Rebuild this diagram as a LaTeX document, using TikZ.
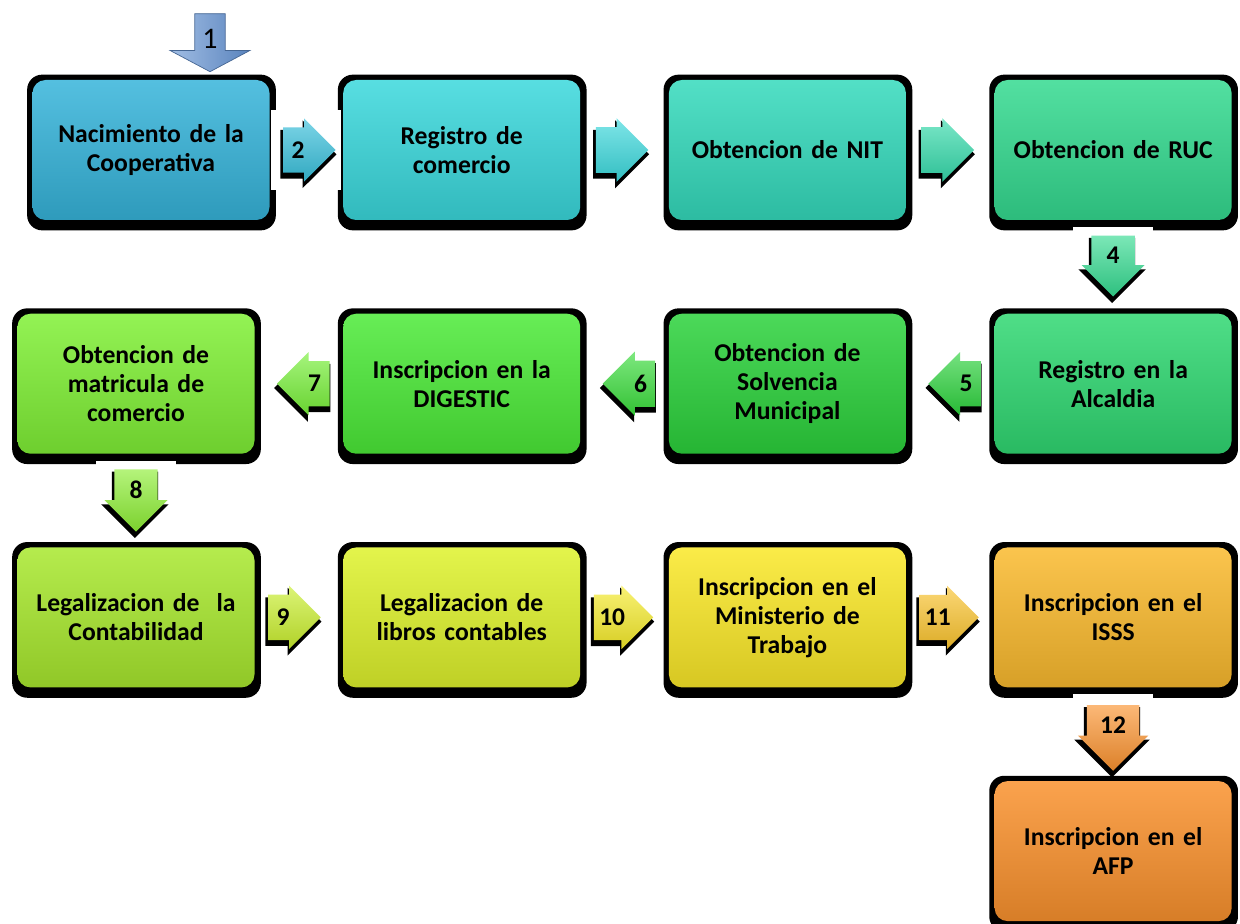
\documentclass[tikz,border=0pt]{standalone}
\usepackage{fontspec}
\setmainfont{Carlito}
\usetikzlibrary{positioning,calc,shapes.arrows,shadows}

\definecolor{cNac}{HTML}{36B4DA}
\definecolor{cReg}{HTML}{3AD8DC}
\definecolor{cNit}{HTML}{34DABC}
\definecolor{cRuc}{HTML}{34DA90}
\definecolor{cAlc}{HTML}{30D872}
\definecolor{cSol}{HTML}{2CD23C}
\definecolor{cDig}{HTML}{4CEA38}
\definecolor{cMat}{HTML}{80F036}
\definecolor{cCon}{HTML}{A8E82E}
\definecolor{cLib}{HTML}{DEF22C}
\definecolor{cMin}{HTML}{FAE828}
\definecolor{cIss}{HTML}{FABA2E}
\definecolor{cAfp}{HTML}{FA922E}
\definecolor{cArr}{HTML}{6392D2}

\pgfdeclarelayer{shade}
\pgfdeclarelayer{patch}
\pgfsetlayers{shade,patch,main}

\begin{document}
\begin{tikzpicture}[node distance=1.86cm and 1.76cm,
  stepbox/.style={rectangle, rounded corners=0.26cm, minimum width=4.74cm, minimum height=2.8cm,
    text width=4.5cm, align=center, font=\bfseries\fontsize{14.6}{16.5}\selectfont,
    top color=#1!85!white, middle color=#1, bottom color=#1!86!black},
  numarrow/.style={single arrow, anchor=tail, minimum height=1.05cm, minimum width=1.26cm,
    single arrow head extend=0.18cm, inner xsep=0.1cm, inner ysep=0.28cm,
    font=\bfseries\fontsize{14.5}{14.5}\selectfont,
    top color=#1!65!white, bottom color=#1!88!black,
    drop shadow={shadow xshift=-0.02cm, shadow yshift=-0.08cm, shadow scale=1.07, opacity=1, fill=black}},
  goright/.style={numarrow=#1},
  goleft/.style={numarrow=#1, shape border rotate=180},
  godown/.style={numarrow=#1, shape border rotate=270, minimum height=1.2cm, inner xsep=0.26cm, inner ysep=0.22cm},
  patchbox/.style={fill=white, minimum width=1.4cm, minimum height=1.6cm},
  patchbox down/.style={fill=white, minimum width=1.6cm, minimum height=1.6cm}]
\useasboundingbox (0,0) rectangle (24.8,-18.48);

% the steps, row by row
\node[stepbox=cNac] (nac) at (3.02,-3.0) {Nacimiento de la\\Cooperativa};
\node[stepbox=cReg] (reg) [right=1.46cm of nac] {Registro de\\comercio};
\node[stepbox=cNit] (nit) [right=of reg] {Obtencion de NIT};
\node[stepbox=cRuc] (ruc) [right=of nit] {Obtencion de RUC};
\node[stepbox=cAlc] (alc) [below=of ruc] {Registro en la\\Alcaldia};
\node[stepbox=cSol] (sol) [left=of alc] {Obtencion de\\Solvencia\\Municipal};
\node[stepbox=cDig] (dig) [left=of sol] {Inscripcion en la\\DIGESTIC};
\node[stepbox=cMat] (mat) [left=of dig] {Obtencion de\\matricula de\\comercio};
\node[stepbox=cCon] (con) [below=of mat] {Legalizacion de\ \ la\\Contabilidad};
\node[stepbox=cLib] (lib) [right=of con] {Legalizacion de\\libros contables};
\node[stepbox=cMin] (min) [right=of lib] {Inscripcion en el\\Ministerio de\\Trabajo};
\node[stepbox=cIss] (iss) [right=of min] {Inscripcion en el\\ISSS};
\node[stepbox=cAfp] (afp) [below=of iss] {Inscripcion en el\\AFP};

% dark frames behind the steps
\begin{pgfonlayer}{shade}
  \foreach \s in {nac,reg,nit,ruc,alc,sol,dig,mat,con,lib,min,iss,afp}
    \fill[black, rounded corners=0.3cm] ([xshift=-0.1cm,yshift=0.1cm]\s.north west)
      rectangle ([xshift=0.12cm,yshift=-0.2cm]\s.south east);
\end{pgfonlayer}

% arrows between the steps
\node[single arrow, shape border rotate=270, minimum height=1.16cm, minimum width=1.6cm,
  single arrow head extend=0.42cm, single arrow tip angle=124, inner sep=0.1cm,
  draw=cArr!70!black, left color=cArr!60!white, right color=cArr!90!black,
  font=\fontsize{17}{17}\selectfont] (a1) at ([xshift=1.18cm,yshift=0.82cm]nac.north) {1};
\node[goright=cNac!70!cReg] (a2) at ([xshift=0.26cm]nac.east) {2};
\node[goright=cReg] (a3) at ([xshift=0.3cm]reg.east) {\phantom{0}};
\node[goright=cNit!60!cRuc] (a3b) at ([xshift=0.3cm]nit.east) {\phantom{0}};
\node[godown=cRuc] (a4) at ([yshift=-0.3cm]ruc.south) {4};
\node[goleft=cSol] (a5) at ([xshift=-0.26cm]alc.west) {5};
\node[goleft=cSol!60!cDig] (a6) at ([xshift=-0.26cm]sol.west) {6};
\node[goleft=cMat!80!cDig] (a7) at ([xshift=-0.26cm]dig.west) {7};
\node[godown=cMat!70!cCon] (a8) at ([yshift=-0.3cm]mat.south) {8};
\node[goright=cLib!60!cCon] (a9) at ([xshift=0.26cm]con.east) {9};
\node[goright=cMin!80!cLib] (a10) at ([xshift=0.26cm]lib.east) {10};
\node[goright=cIss!80!cMin] (a11) at ([xshift=0.26cm]min.east) {11};
\node[godown=cAfp] (a12) at ([yshift=-0.34cm]iss.south) {12};

% white boxes under the numbered arrows
\begin{pgfonlayer}{patch}
  \foreach \p/\q in {nac.east/reg.west, con.east/lib.west, lib.east/min.west, min.east/iss.west}
    \node[patchbox] at ($(\p)!0.5!(\q)$) {};
  \foreach \p/\q in {ruc.south/alc.north, mat.south/con.north, iss.south/afp.north}
    \node[patchbox down] at ($(\p)!0.5!(\q)$) {};
\end{pgfonlayer}
\end{tikzpicture}
\end{document}
